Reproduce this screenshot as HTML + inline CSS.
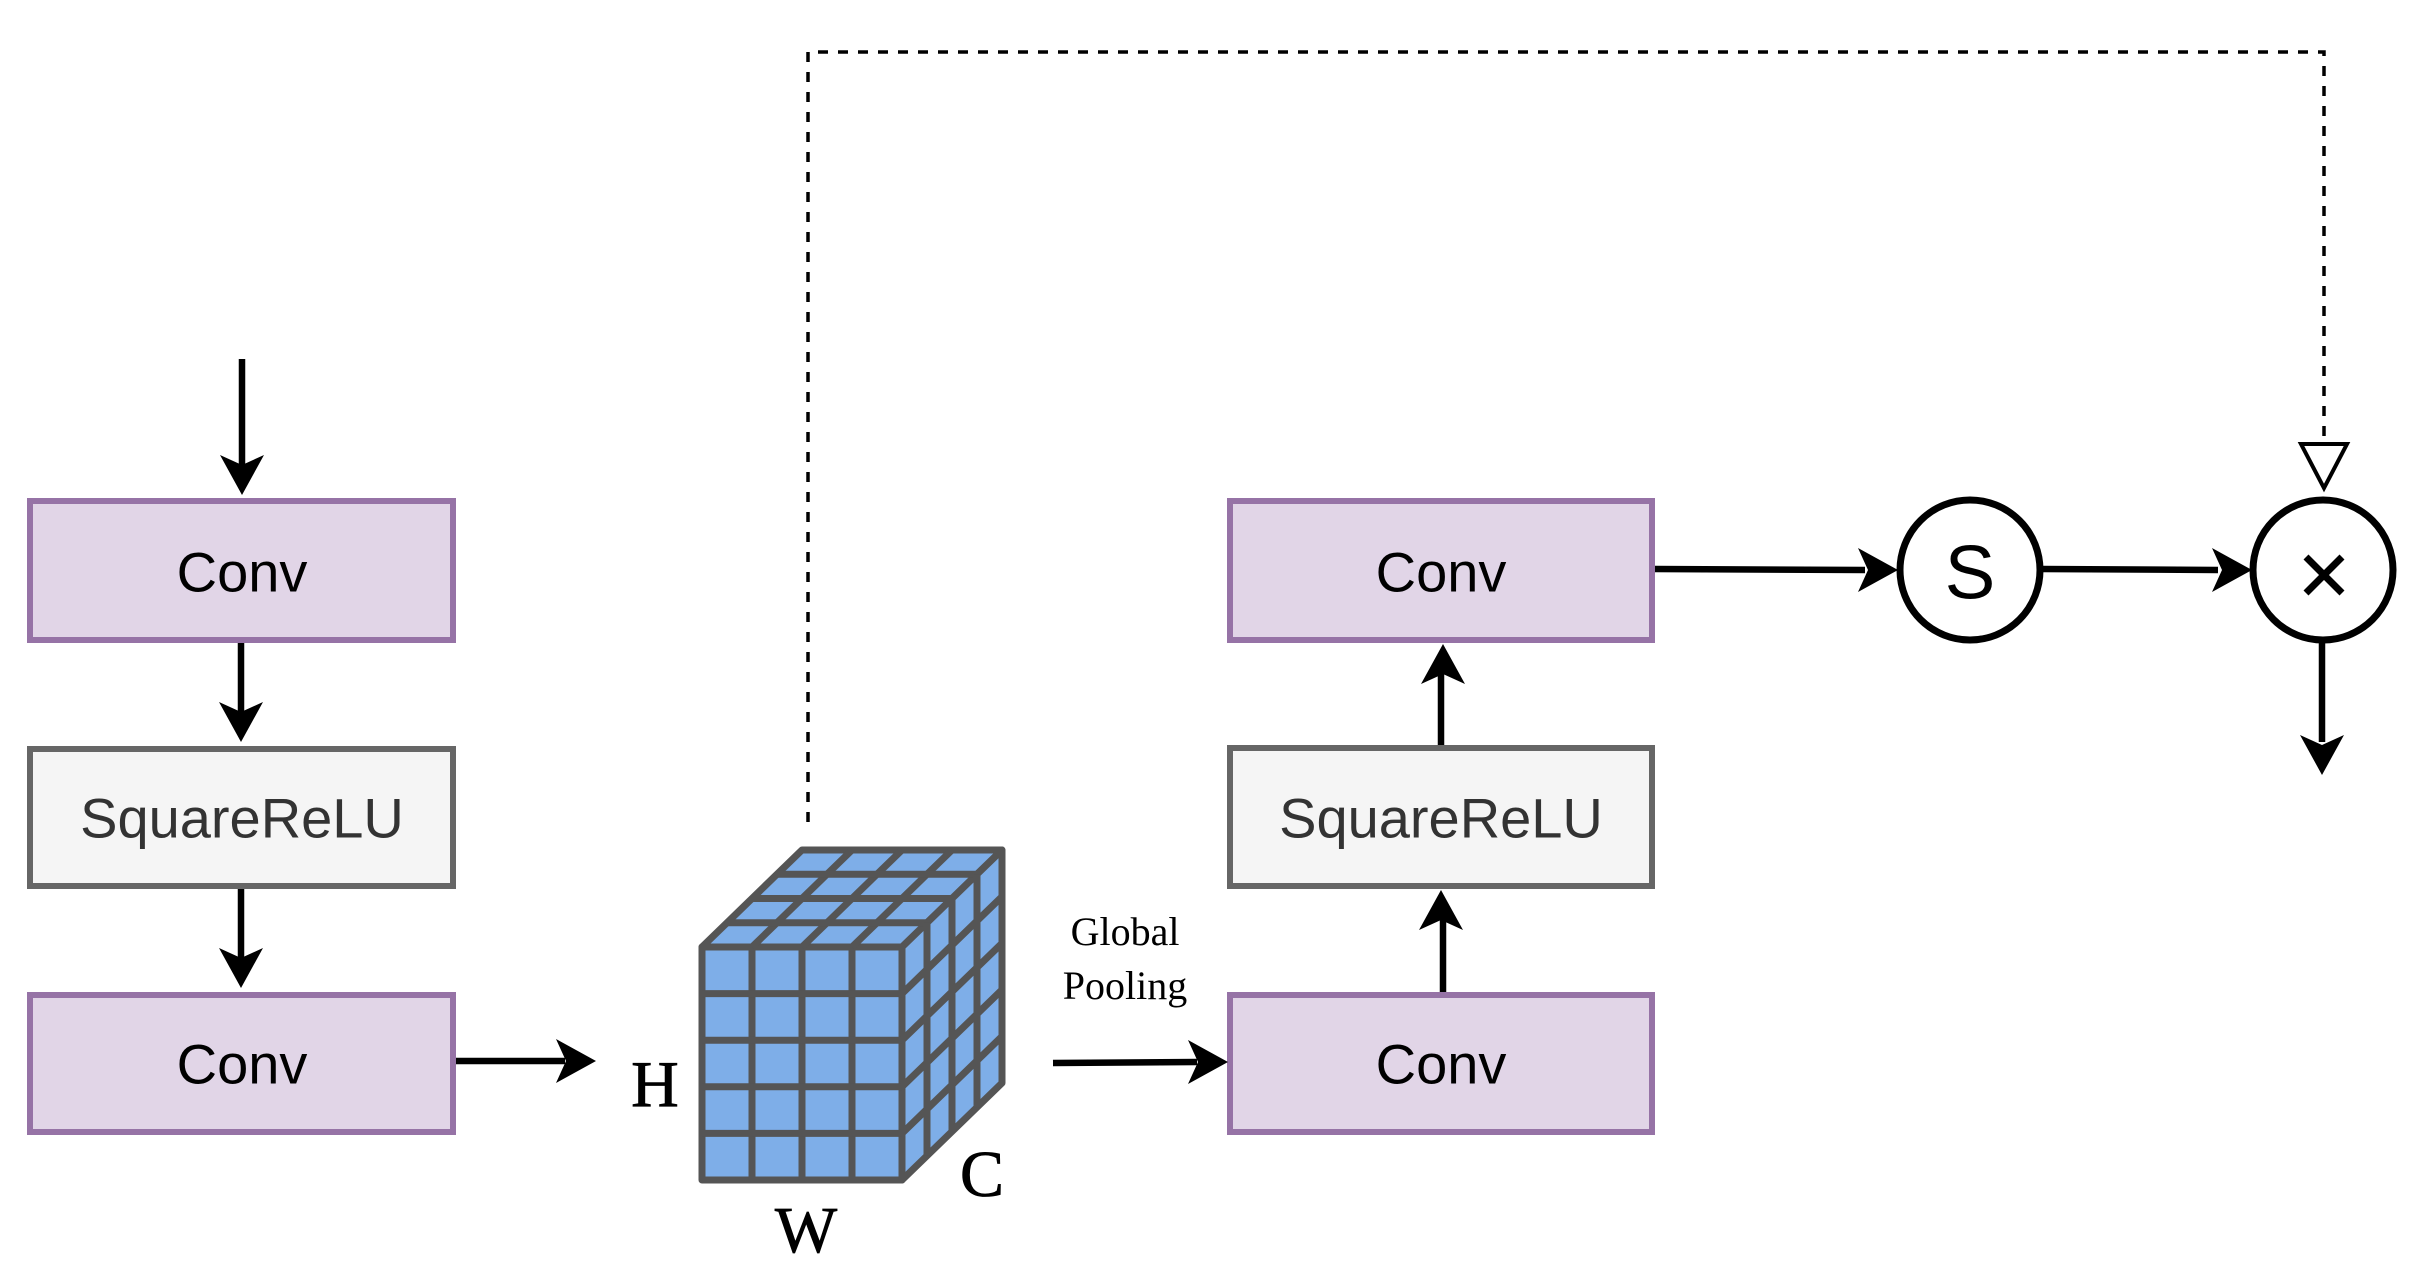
<!DOCTYPE html>
<html><head><meta charset="utf-8"><style>
html,body{margin:0;padding:0;background:#fff;}
svg{display:block;}
.bx{font-family:"Liberation Sans",Arial,sans-serif;font-size:56px;text-anchor:middle;dominant-baseline:central;}
.sr{font-family:"Liberation Serif",serif;fill:#000;}
</style></head><body>
<svg width="2418" height="1279" viewBox="0 0 2418 1279" xmlns="http://www.w3.org/2000/svg">
<polyline points="808,822 808,52 2324,52 2324,444" fill="none" stroke="#000" stroke-width="3.5" stroke-dasharray="10,10"/>
<polygon points="2301,444 2347,444 2324,488" fill="#fff" stroke="#000" stroke-width="4"/>

<rect x="30" y="501" width="423" height="139" fill="#e1d5e7" stroke="#9673a6" stroke-width="6"/>
<text class="bx" x="242" y="572" fill="#000">Conv</text>
<rect x="30" y="749" width="423" height="137" fill="#f5f5f5" stroke="#666" stroke-width="6"/>
<text class="bx" x="242" y="818" fill="#333">SquareReLU</text>
<rect x="30" y="995" width="423" height="137" fill="#e1d5e7" stroke="#9673a6" stroke-width="6"/>
<text class="bx" x="242" y="1064" fill="#000">Conv</text>

<rect x="1230" y="501" width="422" height="139" fill="#e1d5e7" stroke="#9673a6" stroke-width="6"/>
<text class="bx" x="1441" y="572" fill="#000">Conv</text>
<rect x="1230" y="748" width="422" height="138" fill="#f5f5f5" stroke="#666" stroke-width="6"/>
<text class="bx" x="1441" y="818" fill="#333">SquareReLU</text>
<rect x="1230" y="995" width="422" height="137" fill="#e1d5e7" stroke="#9673a6" stroke-width="6"/>
<text class="bx" x="1441" y="1064" fill="#000">Conv</text>

<g stroke="#000" stroke-width="6.5" fill="none">
<line x1="242" y1="359" x2="242" y2="470"/>
<line x1="241" y1="643" x2="241" y2="716"/>
<line x1="241" y1="889" x2="241" y2="962"/>
<line x1="456" y1="1061" x2="565" y2="1061"/>
<line x1="1053" y1="1063" x2="1197" y2="1062"/>
<line x1="1443" y1="992" x2="1443" y2="918"/>
<line x1="1441" y1="745" x2="1441" y2="672"/>
<line x1="1655" y1="569" x2="1865" y2="570"/>
<line x1="2042" y1="569" x2="2218" y2="570"/>
<line x1="2322" y1="641" x2="2322" y2="742"/>
</g>
<g fill="#000">
<polygon points="242,495 220,455 242,465 264,455"/>
<polygon points="241,742 219,702 241,712 263,702"/>
<polygon points="241,988 219,948 241,958 263,948"/>
<polygon points="596,1061 556,1039 566,1061 556,1083"/>
<polygon points="1228,1062 1188,1040 1198,1062 1188,1084"/>
<polygon points="1443,644 1421,684 1443,674 1465,684"/>
<polygon points="1441,890 1419,930 1441,920 1463,930"/>
<polygon points="1898,570 1858,548 1868,570 1858,592"/>
<polygon points="2252,570 2212,548 2222,570 2212,592"/>
<polygon points="2322,775 2300,735 2322,745 2344,735"/>
</g>

<circle cx="1970" cy="570" r="70" fill="#fff" stroke="#000" stroke-width="7"/>
<text class="bx" x="1970" y="573" style="font-size:76px" fill="#000">S</text>
<circle cx="2323" cy="570" r="70" fill="#fff" stroke="#000" stroke-width="7"/>
<g stroke="#000" stroke-width="7"><line x1="2306" y1="557" x2="2342" y2="593"/><line x1="2342" y1="557" x2="2306" y2="593"/></g>

<g stroke="#555" stroke-width="7" stroke-linejoin="round">
<polygon points="702,947 902,947 1002,850 802,850" fill="#7eaee8"/>
<polygon points="902,947 1002,850 1002,1083 902,1180" fill="#7eaee8"/>
<rect x="702" y="947" width="200" height="233" fill="#7eaee8"/>
<line x1="752" y1="947" x2="752" y2="1180"/><line x1="802" y1="947" x2="802" y2="1180"/><line x1="852" y1="947" x2="852" y2="1180"/>
<line x1="702" y1="993.6" x2="902" y2="993.6"/><line x1="702" y1="1040.2" x2="902" y2="1040.2"/><line x1="702" y1="1086.8" x2="902" y2="1086.8"/><line x1="702" y1="1133.4" x2="902" y2="1133.4"/>
<line x1="752" y1="947" x2="852" y2="850"/><line x1="802" y1="947" x2="902" y2="850"/><line x1="852" y1="947" x2="952" y2="850"/>
<line x1="727" y1="922.75" x2="927" y2="922.75"/><line x1="752" y1="898.5" x2="952" y2="898.5"/><line x1="777" y1="874.25" x2="977" y2="874.25"/>
<line x1="927" y1="922.75" x2="927" y2="1155.75"/><line x1="952" y1="898.5" x2="952" y2="1131.5"/><line x1="977" y1="874.25" x2="977" y2="1107.25"/>
<line x1="902" y1="993.6" x2="1002" y2="896.6"/><line x1="902" y1="1040.2" x2="1002" y2="943.2"/><line x1="902" y1="1086.8" x2="1002" y2="989.8"/><line x1="902" y1="1133.4" x2="1002" y2="1036.4"/>
</g>
<g stroke="#000" stroke-width="0.8">
<text class="sr" x="655" y="1106" font-size="66" text-anchor="middle">H</text>
<text class="sr" x="806" y="1252" font-size="66" text-anchor="middle">W</text>
<text class="sr" x="982" y="1196" font-size="66" text-anchor="middle">C</text>
</g>
<text class="sr" x="1125" y="945" font-size="40" text-anchor="middle">Global</text>
<text class="sr" x="1125" y="999" font-size="40" text-anchor="middle">Pooling</text>
</svg>
</body></html>
